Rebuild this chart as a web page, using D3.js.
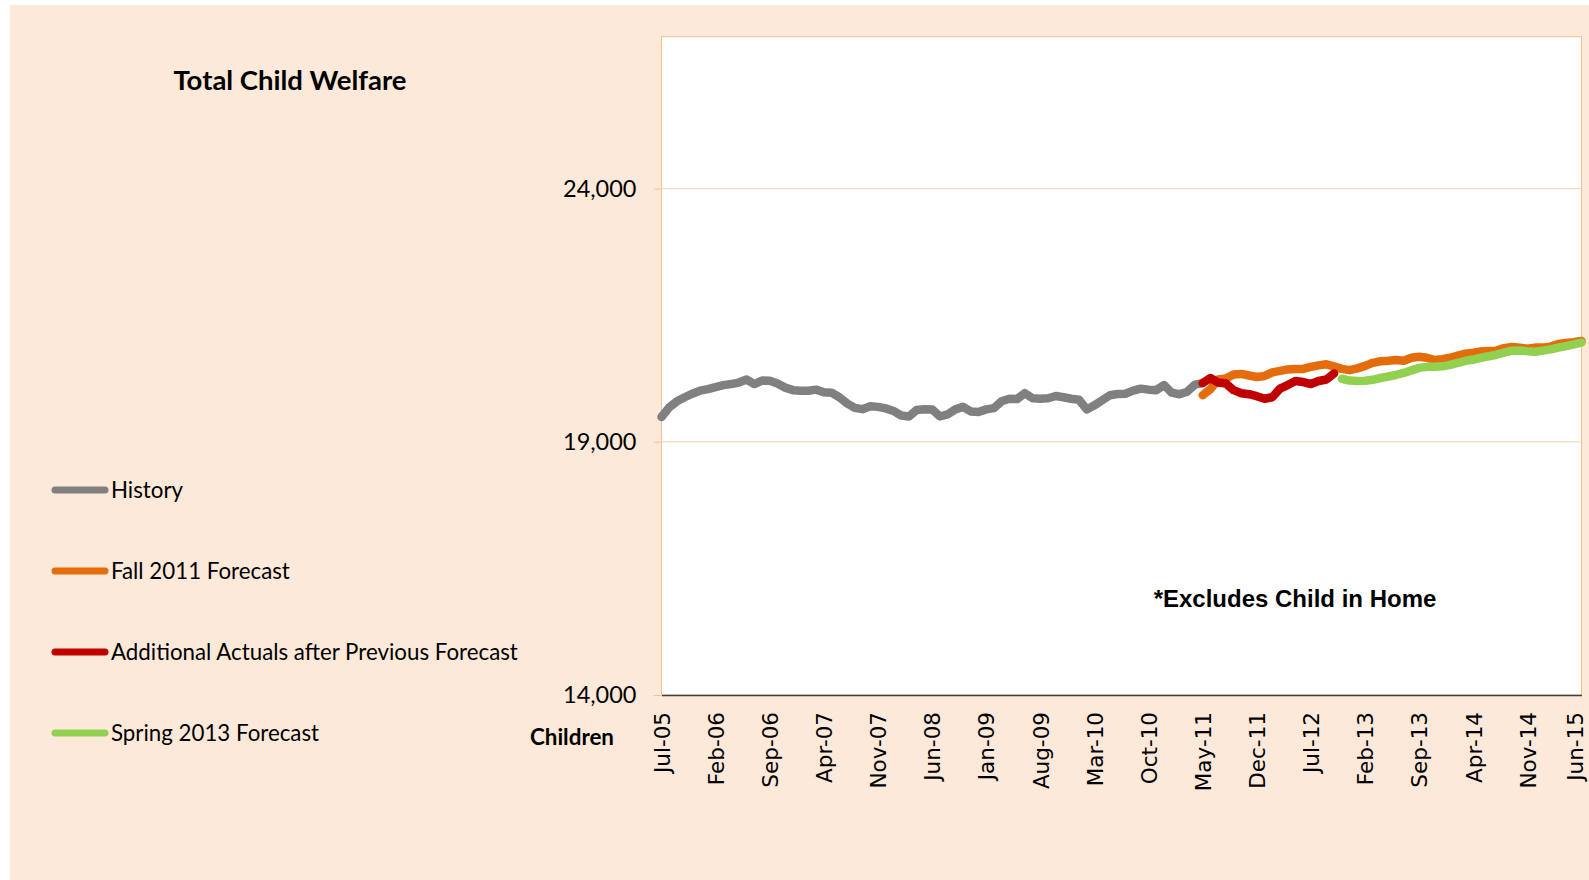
<!DOCTYPE html>
<html>
<head>
<meta charset="utf-8">
<script src="https://cdn.jsdelivr.net/npm/d3@7"></script>
<style>
    body { margin: 0; background: #ffffff; }
</style>
</head>
<body>
<div id="chart"></div>
<script>
//Month labels, Jul-05 .. Jun-15
var monthNames = ["Jan", "Feb", "Mar", "Apr", "May", "Jun", "Jul", "Aug", "Sep", "Oct", "Nov", "Dec"];
var months = [];
for (var i = 0; i < 120; i++) {
    var mi = (6 + i) % 12;
    var yr = 5 + Math.floor((6 + i) / 12);
    months.push(monthNames[mi] + "-" + (yr < 10 ? "0" + yr : yr));
}

//History, Jul-05 .. May-11
var historyValues = [19490, 19680, 19800, 19880, 19950, 20010, 20040, 20080, 20120, 20140,
    20170, 20230, 20140, 20210, 20205, 20150, 20070, 20020, 20010, 20010,
    20030, 19980, 19970, 19880, 19760, 19670, 19645, 19700, 19690, 19660,
    19610, 19520, 19500, 19630, 19645, 19640, 19500, 19540, 19640, 19690,
    19600, 19590, 19640, 19665, 19800, 19850, 19845, 19960, 19860, 19850,
    19860, 19905, 19880, 19850, 19830, 19640, 19720, 19820, 19920, 19945,
    19950, 20010, 20050, 20030, 20020, 20120, 19970, 19940, 19990, 20130,
    20160];

//Fall 2011 Forecast, May-11 .. Jun-15
var fallValues = [19920, 20040, 20230, 20250, 20330, 20340, 20310, 20280, 20300, 20370,
    20400, 20430, 20440, 20440, 20480, 20510, 20530, 20490, 20440, 20415,
    20450, 20500, 20560, 20590, 20600, 20615, 20600, 20660, 20680, 20660,
    20615, 20630, 20660, 20700, 20740, 20760, 20785, 20795, 20800, 20850,
    20875, 20860, 20840, 20860, 20860, 20880, 20930, 20950, 20965, 20990];

//Additional Actuals after Previous Forecast, May-11 .. Oct-12
var actualValues = [20160, 20260, 20170, 20150, 20020, 19960, 19940, 19900, 19850, 19880,
    20050, 20120, 20200, 20180, 20140, 20200, 20230, 20350];

//Spring 2013 Forecast, Nov-12 .. Jun-15
var springValues = [20245, 20210, 20200, 20205, 20225, 20260, 20290, 20320, 20360, 20410,
    20460, 20480, 20480, 20490, 20520, 20560, 20600, 20625, 20660, 20690,
    20720, 20760, 20800, 20805, 20790, 20780, 20800, 20825, 20860, 20890,
    20925, 20960];

var yTicks = [14000, 19000, 24000];

//Series table, start = index into months
var series = [
    {name: "History", start: 0, values: historyValues, color: "#808080"},
    {name: "Fall 2011 Forecast", start: 70, values: fallValues, color: "#E46C0A"},
    {name: "Additional Actuals after Previous Forecast", start: 70, values: actualValues, color: "#C00000"},
    {name: "Spring 2013 Forecast", start: 88, values: springValues, color: "#92D050"}
];

var width = 1589;
var height = 880;
var margin = {left: 661.5, right: 7.5, top: 36.7, bottom: 185};
var peach = "#FDE9D9";
var calibri = "Lato, 'Open Sans', sans-serif";

var svg = d3.select("#chart").append("svg")
    .attr("width", width)
    .attr("height", height);

//Background panel
svg.append("rect")
    .attr("x", 10).attr("y", 5)
    .attr("width", width - 10).attr("height", height - 5)
    .attr("fill", peach);

var x = d3.scalePoint()
    .domain(months)
    .range([margin.left, width - margin.right]);

var y = d3.scaleLinear()
    .domain([14000, 27000])
    .range([height - margin.bottom, margin.top]);

//Plot area
svg.append("rect")
    .attr("x", margin.left).attr("y", margin.top)
    .attr("width", width - margin.right - margin.left)
    .attr("height", y(14000) - margin.top)
    .attr("fill", "#ffffff")
    .attr("stroke", "#FAC090")
    .attr("stroke-width", 1);

//Y axis with gridlines
var yAxis = svg.append("g")
    .attr("transform", "translate(" + margin.left + ",0)")
    .call(d3.axisLeft(y)
        .tickValues(yTicks)
        .tickSize(8)
        .tickPadding(17)
        .tickFormat(d3.format(",d")));
yAxis.select(".domain").remove();
yAxis.selectAll(".tick line").attr("stroke", "#FAC090");
yAxis.selectAll(".tick text")
    .attr("fill", "#000")
    .style("font-family", calibri)
    .style("font-size", "23.5px");

svg.append("g").selectAll("line")
    .data(yTicks.slice(1))
    .enter().append("line")
    .attr("x1", margin.left).attr("x2", width - margin.right)
    .attr("y1", function(d) { return y(d); })
    .attr("y2", function(d) { return y(d); })
    .attr("stroke", "#FAD3B0")
    .attr("stroke-width", 1);

//X axis, every 7th month
var xLabels = months.filter(function(d, i) { return i % 7 === 0; });
var xAxis = svg.append("g")
    .attr("transform", "translate(0," + y(14000) + ")")
    .call(d3.axisBottom(x)
        .tickValues(xLabels)
        .tickSize(0));
xAxis.select(".domain").attr("stroke", "#404040").attr("stroke-width", 1.5);
xAxis.selectAll(".tick text")
    .attr("fill", "#000")
    .style("font-family", "'DejaVu Sans', sans-serif")
    .style("font-size", "21.5px")
    .attr("text-anchor", "end")
    .attr("transform", "rotate(-90)")
    .attr("x", -17)
    .attr("y", 0)
    //last label nudged left so it stays inside the page
    .attr("dy", function(d) { return d === xLabels[xLabels.length - 1] ? "0.05em" : "0.36em"; });

//Lines
var line = d3.line()
    .x(function(d) { return x(months[d.i]); })
    .y(function(d) { return y(d.v); });

svg.append("g").selectAll("path")
    .data(series)
    .enter().append("path")
    .attr("d", function(s) {
        return line(s.values.map(function(v, k) { return {i: s.start + k, v: v}; }));
    })
    .attr("fill", "none")
    .attr("stroke", function(s) { return s.color; })
    .attr("stroke-width", 8.5)
    .attr("stroke-linecap", "round")
    .attr("stroke-linejoin", "round");

//Title
svg.append("text")
    .attr("x", 290).attr("y", 90)
    .attr("text-anchor", "middle")
    .style("font-family", calibri)
    .style("font-weight", "bold")
    .style("font-size", "27.5px")
    .text("Total Child Welfare");

//Legend
var legend = svg.append("g").selectAll("g")
    .data(series)
    .enter().append("g")
    .attr("transform", function(d, i) { return "translate(0," + (490 + i * 81) + ")"; });

legend.append("line")
    .attr("x1", 55).attr("x2", 105)
    .attr("stroke", function(d) { return d.color; })
    .attr("stroke-width", 7)
    .attr("stroke-linecap", "round");

legend.append("text")
    .attr("x", 111)
    .attr("dy", "0.35em")
    .style("font-family", calibri)
    .style("font-size", "22.3px")
    .text(function(d) { return d.name; });

//Axis title
svg.append("text")
    .attr("x", 572).attr("y", 745)
    .attr("text-anchor", "middle")
    .style("font-family", calibri)
    .style("font-weight", "bold")
    .style("font-size", "22.4px")
    .text("Children");

//Note
svg.append("text")
    .attr("x", 1295).attr("y", 607)
    .attr("text-anchor", "middle")
    .style("font-family", "'Liberation Sans', Arial, sans-serif")
    .style("font-weight", "bold")
    .style("font-size", "24px")
    .text("*Excludes Child in Home");
</script>
</body>
</html>
